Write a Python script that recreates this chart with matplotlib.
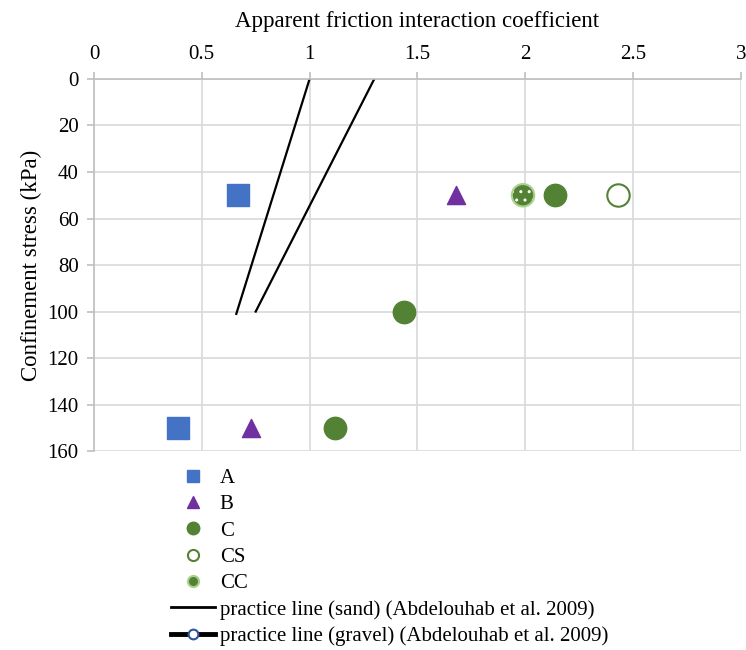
import matplotlib
matplotlib.use('Agg')
from matplotlib import pyplot as plt
from matplotlib.lines import Line2D

plt.rcParams['font.family'] = ['Liberation Serif', 'DejaVu Serif']

# data
a_x = [0.67, 0.39]
a_y = [50, 150]
b_x = [1.68, 0.73]
b_y = [50, 150]
c_x = [2.14, 1.44, 1.12]
c_y = [50, 100, 150]
cs_x = [2.43]
cs_y = [50]
cc_x = [1.99]
cc_y = [50]
sand_x = [1.0, 0.66]
sand_y = [0, 101]
gravel_x = [1.3, 0.75]
gravel_y = [0, 100]

blue = '#4472c4'
purple = '#7030a0'
green = '#548235'

fig = plt.figure(figsize=(7.46, 6.5), dpi=100)
ax = fig.add_axes([0.126, 0.306, 0.867, 0.5725])

ax.plot(sand_x, sand_y, color='black', lw=1.6, zorder=2)
ax.plot(gravel_x, gravel_y, color='black', lw=1.6, zorder=2)

ax.scatter(a_x, a_y, marker='s', s=240, color=blue, zorder=3)
ax.scatter(b_x, b_y, marker='^', s=170, color=purple, zorder=3)
ax.scatter(c_x, c_y, marker='o', s=260, color=green, zorder=3)
ax.scatter(cs_x, cs_y, marker='o', s=260, facecolor='white', edgecolor=green, linewidth=1.5, zorder=3)
# CC: green circle with white dots
ax.scatter(cc_x, cc_y, marker='o', s=260, facecolor=green, edgecolor='white', hatch='..', linewidth=0, zorder=3)
ax.scatter(cc_x, cc_y, marker='o', s=260, facecolor='none', edgecolor='#a9d18e', linewidth=1.5, zorder=4)

ax.set_xlim(0, 3)
ax.set_ylim(160, 0)
ax.set_xticks([0, 0.5, 1, 1.5, 2, 2.5, 3])
ax.set_xticklabels(['0', '0.5', '1', '1.5', '2', '2.5', '3'])
ax.set_yticks(range(0, 161, 20))
ax.xaxis.tick_top()
ax.xaxis.set_label_position('top')
ax.tick_params(length=5, width=1.2, color='#bfbfbf', direction='out', labelsize=15, pad=6)
ax.set_xlabel('Apparent friction interaction coefficient', fontsize=16.5, labelpad=13)
ax.set_ylabel('Confinement stress (kPa)', fontsize=16.5, labelpad=4)
ax.grid(True, color='#d9d9d9', lw=1.2)
ax.set_axisbelow(True)
for s in ax.spines.values():
    s.set_visible(False)
for side in ['top', 'left']:
    ax.spines[side].set_visible(True)
    ax.spines[side].set_color('#bfbfbf')
    ax.spines[side].set_linewidth(1.2)

handles = [
    Line2D([], [], ls='none', marker='s', ms=9, color=blue),
    Line2D([], [], ls='none', marker='^', ms=9, color=purple),
    Line2D([], [], ls='none', marker='o', ms=9, color=green),
    Line2D([], [], ls='none', marker='o', ms=8, mfc='white', mec=green, mew=1.5),
    Line2D([], [], ls='none', marker='o', ms=8, mfc=green, mec='#a9d18e', mew=1.5),
    Line2D([], [], color='black', lw=2),
    Line2D([], [], color='black', lw=3.5, marker='o', ms=7, mfc='white', mec='#2f5597', mew=1.5),
]
labels = ['A', 'B', 'C', 'CS', 'CC',
          'practice line (sand) (Abdelouhab et al. 2009)',
          'practice line (gravel) (Abdelouhab et al. 2009)']
fig.legend(handles, labels, loc='upper left', bbox_to_anchor=(0.229, 0.279),
           frameon=False, fontsize=15, handlelength=2.1, handletextpad=0.25,
           labelspacing=0.32, borderaxespad=0, borderpad=0)

fig.savefig('out.png', dpi=100)
